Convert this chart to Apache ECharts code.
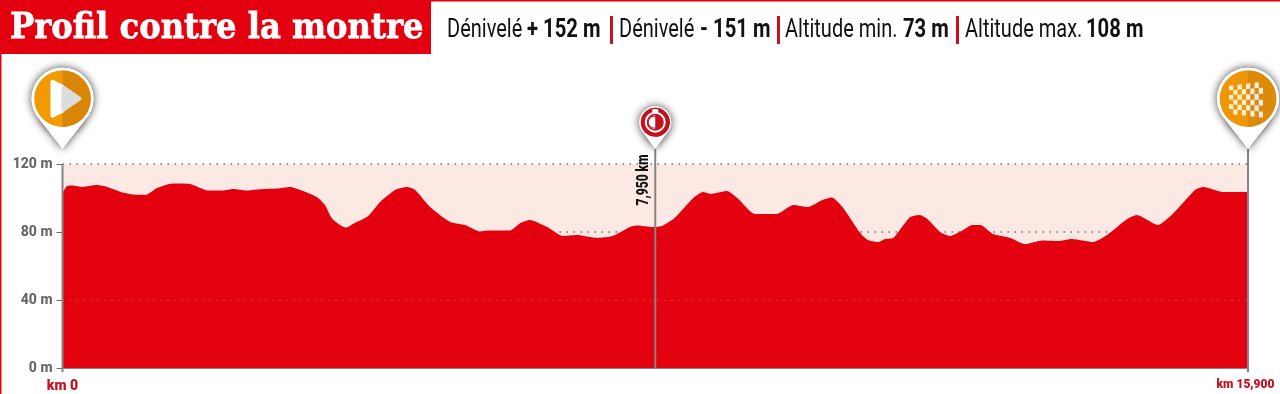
<!DOCTYPE html>
<html>
<head>
<meta charset="utf-8">
<title>Profil contre la montre</title>
<script src="https://cdn.jsdelivr.net/npm/echarts@6/dist/echarts.min.js"></script>
<style>
  html, body {margin: 0; padding: 0; background: #fff;}
  #chart {width: 1280px; height: 394px;}
</style>
</head>
<body>
<div id="chart"></div>
<script>
const distances = [0, .06, .13, .27, .46, .60, .81, .95, 1.11, 1.27, 1.48, 1.71, 1.95, 2.15, 2.29, 2.47, 2.69, 2.88, 3.05, 3.19,
  3.41, 3.52, 3.61, 3.72, 3.80, 3.92, 4.10, 4.26, 4.46, 4.62, 4.73, 4.93, 5.20, 5.40, 5.60, 5.69, 6.00, 6.14, 6.27, 6.50,
  6.71, 6.90, 7.17, 7.38, 7.61, 7.70, 7.92, 8.04, 8.21, 8.46, 8.59, 8.69, 8.91, 9.05, 9.29, 9.58, 9.80, 10.0, 10.19, 10.32,
  10.46, 10.70, 10.80, 10.94, 11.03, 11.14, 11.23, 11.37, 11.50, 11.60, 11.77, 11.90, 12.08, 12.20, 12.31, 12.48, 12.71, 12.91, 13.14, 13.35,
  13.54, 13.82, 14.01, 14.28, 14.41, 14.69, 14.89, 15.19, 15.30, 15.57, 15.90];
const altitudes = [103, 107, 107.4, 106.5, 107.6, 106.5, 103.2, 102, 101.8, 105.9, 108.5, 108.2, 104.4, 104.4, 105.3, 104.4, 105.3, 105.6, 106.5, 104.7,
  100.6, 95.9, 88.2, 84.1, 82.6, 85.3, 89.4, 97.6, 104.7, 106.5, 104.7, 94.7, 85.9, 84.1, 80.3, 80.9, 80.9, 85.3, 87.1, 82.9,
  77.6, 78.2, 76.5, 77.6, 82.9, 83.8, 82.9, 83.5, 88.2, 100, 103.5, 102.4, 104.1, 100, 90.6, 90.6, 95.9, 94.7, 98.8, 100.3,
  94.7, 79.4, 75.3, 74.1, 75.9, 76.5, 81.2, 88.8, 90, 87.6, 80, 77.6, 81.2, 84.1, 84.1, 78.8, 76.5, 72.9, 75, 74.7,
  75.9, 74.1, 78.2, 87.6, 90, 84.1, 90.6, 104.7, 106.5, 103.5, 103.5];
const altitudeTicks = [0, 40, 80, 120];
const kmLabels = {0: '{a|km 0}', 15.9: '{b|km 15,900}'};
const kmStart = 0;
const kmSplit = 7.95;
const kmEnd = 15.9;
const pinTip = 129;
const titleText = 'Profil contre la montre';
const splitText = '7,950 km';
const statLabels = ['Dénivelé', 'Dénivelé', 'Altitude min.', 'Altitude max.'];
const statValues = ['+ 152 m', '- 151 m', '73 m', '108 m'];

const RED = '#e3000f';
const GRAY = '#858585';
const FONT = 'Roboto, sans-serif';

const myChart = echarts.init(document.getElementById('chart'), null, {renderer: 'canvas'});

const stem = (km, from, to) => ({
  type: 'line',
  data: [[km, from], [km, to]],
  symbol: 'none',
  clip: false,
  silent: true,
  z: 4,
  lineStyle: {color: GRAY, width: 2},
});

const kmLabelStyle = {fontFamily: FONT, fontWeight: 900, color: '#c8101e'};

myChart.setOption({
  animation: false,
  backgroundColor: '#fff',
  grid: {left: 62.5, right: 32, top: 164, bottom: 26, show: true, backgroundColor: '#fce9e3', borderWidth: 0, outerBoundsMode: 'none'},
  xAxis: {
    type: 'value',
    min: kmStart,
    max: kmEnd,
    splitLine: {show: false},
    axisLine: {show: true, lineStyle: {color: GRAY, width: 2}},
    axisTick: {show: false},
    axisLabel: {
      customValues: [kmStart, kmEnd],
      margin: 11,
      formatter: v => kmLabels[v],
      rich: {
        a: {...kmLabelStyle, fontSize: 14},
        b: {...kmLabelStyle, fontSize: 12, padding: [0, 5, 0, 0]},
      },
    },
  },
  yAxis: {
    type: 'value',
    min: 0,
    max: 120,
    interval: 40,
    axisLine: {show: false},
    axisTick: {show: true, length: 6, lineStyle: {color: '#666', width: 1}},
    axisLabel: {
      margin: 10,
      fontFamily: FONT,
      fontSize: 14,
      fontWeight: 800,
      color: '#666',
      formatter: v => altitudeTicks.includes(v) ? v + ' m' : '',
    },
    splitLine: {show: true, lineStyle: {color: '#707070', width: 1.5, type: [1.5, 5.5]}},
  },
  series: [
    {
      type: 'line',
      data: distances.map((d, i) => [d, altitudes[i]]),
      symbol: 'none',
      smooth: 0.2,
      lineStyle: {width: 0},
      areaStyle: {color: RED, opacity: 1},
      z: 2,
      markLine: {
        silent: true,
        symbol: 'none',
        label: {show: false},
        lineStyle: {color: 'rgba(255,190,150,.55)', width: 1, type: [1, 6]},
        data: [{yAxis: 40}],
      },
    },
    stem(kmStart, -2.5, 120),
    stem(kmSplit, 0, pinTip),
    stem(kmEnd, -2.5, pinTip),
  ],
});

// pins and header are decoration, placed from the axis scales
const px = (km, m) => myChart.convertToPixel({gridIndex: 0}, [km, m]);

function pinBase(x, tip, cy, r, inner, left, right) {
  const s = r * 0.72;
  const dy = Math.sqrt(r * r - s * s);
  const shadow = {shadowBlur: 9, shadowColor: 'rgba(0,0,0,.75)'};
  const body = [[x - s, cy + dy], [x + s, cy + dy], [x, tip]];
  return [
    {type: 'circle', shape: {cx: x, cy: cy, r: r}, style: {fill: '#fff', ...shadow}},
    {type: 'polygon', shape: {points: body}, style: {fill: '#fff', ...shadow}},
    {type: 'circle', shape: {cx: x, cy: cy, r: r}, style: {fill: '#fff'}},
    {type: 'polygon', shape: {points: body}, style: {fill: '#fff'}},
    {type: 'circle', shape: {cx: x, cy: cy, r: inner}, style: {fill: left}},
    {type: 'sector', shape: {cx: x, cy: cy, r: inner, startAngle: -Math.PI / 2, endAngle: Math.PI / 2}, style: {fill: right}},
  ];
}

function startPin() {
  const [x, tip] = px(kmStart, pinTip);
  const cy = tip - 50;
  const tri = (pts, fill) => ({type: 'polygon', shape: {points: pts, smooth: 0}, style: {fill: fill, stroke: fill, lineWidth: 4, lineJoin: 'round'}});
  return [
    ...pinBase(x, tip, cy, 31, 28.3, '#f29a00', '#d98606'),
    tri([[x - 10, cy - 17], [x, cy - 12], [x, cy + 12], [x - 10, cy + 17]], '#fff'),
    tri([[x + 1, cy - 11], [x + 17, cy], [x + 1, cy + 11]], '#dcdcdc'),
  ];
}

function finishPin() {
  const [x, tip] = px(kmEnd, pinTip);
  const cy = tip - 50;
  const els = pinBase(x, tip, cy, 31, 28.3, '#ee9606', '#dc8a08');
  const cols = 8;
  const rows = 6;
  const x0 = x - 19;
  const w = 34 / cols;
  for (let c = 0; c < cols; c++) {
    for (let r = 0; r < rows; r++) {
      if ((c + r) % 2) continue;
      const h0 = 14 + 4 * c / cols;
      const h1 = 14 + 4 * (c + 1) / cols;
      const yAt = (h, row) => cy + 1 - h + 2 * h * row / rows;
      const fill = c >= cols / 2 ? '#efece2' : '#fdf0d0';
      els.push({
        type: 'polygon',
        shape: {points: [
          [x0 + c * w, yAt(h0, r)], [x0 + (c + 1) * w, yAt(h1, r)],
          [x0 + (c + 1) * w, yAt(h1, r + 1)], [x0 + c * w, yAt(h0, r + 1)],
        ]},
        style: {fill: fill},
      });
    }
  }
  return els;
}

function splitPin() {
  const [x, tip] = px(kmSplit, pinTip);
  const cy = tip - 26.5;
  return [
    ...pinBase(x, tip, cy, 16, 14.5, '#c5101f', '#c5101f'),
    {type: 'rect', shape: {x: x - 3, y: cy - 13, width: 6, height: 3}, style: {fill: '#fff'}},
    {type: 'circle', shape: {cx: x, cy: cy, r: 9.5}, style: {fill: '#c5101f', stroke: '#fff', lineWidth: 2}},
    {type: 'sector', shape: {cx: x, cy: cy, r: 7, startAngle: Math.PI / 2, endAngle: Math.PI * 1.5}, style: {fill: '#fff'}},
    {type: 'circle', shape: {cx: x - 1, cy: cy, r: 6}, style: {fill: 'none', stroke: '#c5101f', lineWidth: 1}},
  ];
}

const statX = [447, 619, 785, 965];
const valueX = [527, 700, 903, 1086];
const barX = [610, 777, 956];

function header() {
  const els = [
    {type: 'rect', shape: {x: 0, y: 0, width: 1280, height: 1.5}, style: {fill: RED}},
    {type: 'rect', shape: {x: 0, y: 0, width: 1.5, height: 394}, style: {fill: RED}},
    {type: 'rect', shape: {x: 0, y: 0, width: 431, height: 54}, style: {fill: RED}},
    {type: 'text', x: 10, y: 28.5, scaleX: 0.895, style: {text: titleText, fill: '#fff', stroke: '#fff', lineWidth: 0.8, font: '900 36px "DejaVu Serif", serif', verticalAlign: 'middle'}},
  ];
  statLabels.forEach((t, i) => {
    els.push({type: 'text', x: statX[i], y: 31, scaleX: 0.8, style: {text: t, fill: '#111', font: '400 25px ' + FONT, verticalAlign: 'middle'}});
    els.push({type: 'text', x: valueX[i], y: 31, scaleX: 0.81, style: {text: statValues[i], fill: '#111', font: '700 25px ' + FONT, verticalAlign: 'middle'}});
  });
  barX.forEach(x => {
    els.push({type: 'rect', shape: {x: x, y: 16, width: 3, height: 28}, style: {fill: '#c8101e'}});
  });
  const [sx] = px(kmSplit, 0);
  els.push({
    type: 'text', x: sx - 11, y: 180, rotation: Math.PI / 2, scaleX: 0.75,
    style: {text: splitText, fill: '#111', font: '900 16px ' + FONT, align: 'center', verticalAlign: 'middle'},
  });
  return els;
}

myChart.setOption({
  graphic: [...header(), ...startPin(), ...finishPin(), ...splitPin()].map(e => ({...e, z: 10})),
});
</script>
</body>
</html>
